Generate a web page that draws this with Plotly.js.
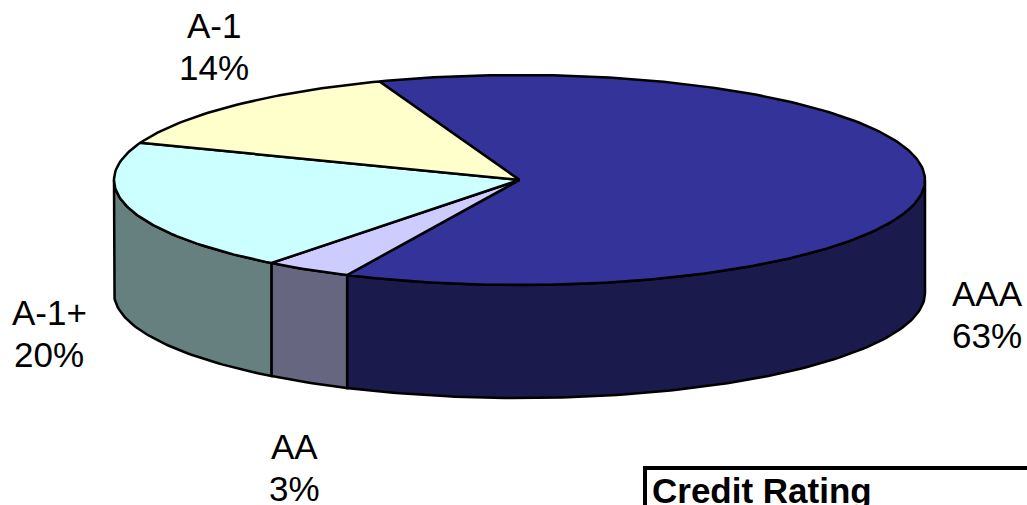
<!DOCTYPE html>
<html><head><meta charset="utf-8">
<script src="https://cdn.plot.ly/plotly-3.0.1.min.js"></script>
<style>html,body{margin:0;padding:0;background:#fff;overflow:hidden}#c{width:1027px;height:505px}</style>
</head><body><div id="c"></div>
<script>
const categories = ["AAA", "AA", "A-1+", "A-1"];
const shares = [62.6, 3.49, 20.3, 13.61];
const topColors = ["#333399", "#ccccff", "#ccffff", "#ffffcc"];
const sideColors = ["#1a1a4d", "#666680", "#668080", "#808066"];
const labelX = [987, 294, 49, 214];
const labelY = [315, 468, 334, 47];

const cx = 519.5, cy = 180, rx = 405.5, ry = 105, depth = 113, startDeg = -20.2;
const rad = d => d * Math.PI / 180;
const px = t => cx + rx * Math.sin(rad(t));
const py = t => cy - ry * Math.cos(rad(t));
const total = shares.reduce((a, b) => a + b, 0);
const traces = [], tops = [];
const outline = {color: "#000", width: 2.5};
let a = startDeg;
shares.forEach((v, i) => {
  const b = a + v / total * 360;
  const X = [cx], Y = [cy];
  for (let t = a; t < b; t += 1) { X.push(px(t)); Y.push(py(t)); }
  X.push(px(b), cx); Y.push(py(b), cy);
  tops.push({x: X, y: Y, mode: "lines", fill: "toself", fillcolor: topColors[i],
    line: outline, hoverinfo: "skip", showlegend: false, name: categories[i]});
  const s = Math.max(a, 90), e = Math.min(b, 270);
  if (e > s) {
    const SX = [], SY = [];
    for (let t = s; t < e; t += 1) { SX.push(px(t)); SY.push(py(t)); }
    SX.push(px(e)); SY.push(py(e));
    for (let t = e; t > s; t -= 1) { SX.push(px(t)); SY.push(py(t) + depth); }
    SX.push(px(s), px(s)); SY.push(py(s) + depth, py(s));
    traces.push({x: SX, y: SY, mode: "lines", fill: "toself", fillcolor: sideColors[i],
      line: outline, hoverinfo: "skip", showlegend: false, name: categories[i] + " side"});
  }
  a = b;
});

const font = {family: "Liberation Sans, Arial, sans-serif", size: 35, color: "#000"};
const annotations = [];
categories.forEach((c, i) => {
  annotations.push({x: labelX[i], y: labelY[i] - 22, xref: "x", yref: "y", showarrow: false, text: c, font});
  annotations.push({x: labelX[i], y: labelY[i] + 20, xref: "x", yref: "y", showarrow: false,
    text: Math.round(shares[i]) + "%", font});
});
annotations.push({x: 650, y: 490, xref: "x", yref: "y", xanchor: "left", showarrow: false,
  text: "<b>Credit Rating</b>", font});

const hidden = {visible: false, fixedrange: true};
Plotly.newPlot("c", traces.concat(tops), {
  width: 1027, height: 505, margin: {l: 0, r: 0, t: 0, b: 0},
  paper_bgcolor: "#fff", plot_bgcolor: "#fff", showlegend: false,
  xaxis: Object.assign({range: [0, 1027]}, hidden),
  yaxis: Object.assign({range: [505, 0]}, hidden),
  annotations,
  shapes: [{type: "rect", xref: "x", yref: "y", x0: 645, y0: 468, x1: 1050, y1: 540,
    line: {color: "#000", width: 4}, fillcolor: "rgba(0,0,0,0)"}]
}, {displayModeBar: false, staticPlot: true});
</script></body></html>
